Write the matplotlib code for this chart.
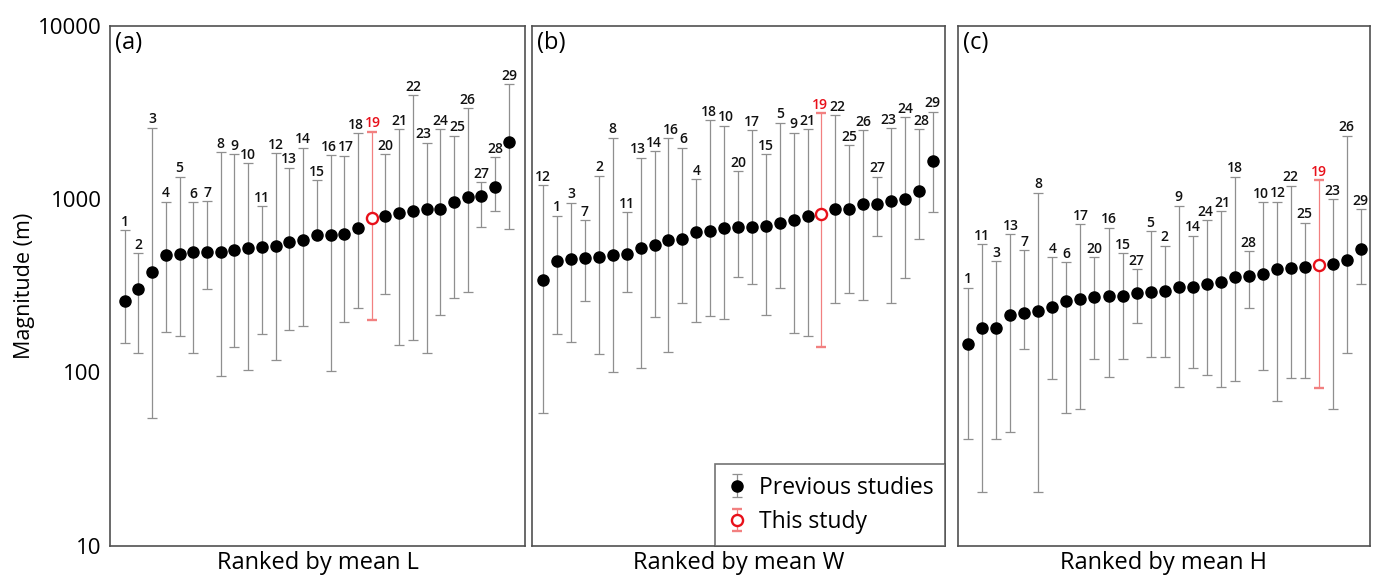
import matplotlib
matplotlib.use("Agg")
import matplotlib.pyplot as plt
import numpy as np

plt.rcParams['font.family'] = ['Open Sans', 'DejaVu Sans']

# ---------------- data ----------------
this_study_id = 19

labels_a = list(range(1, 30))
mean_a = [258, 301, 378, 476, 480, 493, 493, 493, 508, 524, 531, 536, 563, 581, 620,
          620, 629, 678, 775, 799, 828, 854, 877, 877, 958, 1032, 1046, 1179, 2128]
upper_a = [663, 487, 2584, 966, 1347, 958, 975, 1863, 1814, 1610, 912, 1838, 1518, 1981, 1289,
           1800, 1781, 2398, 2450, 1814, 2540, 3990, 2117, 2540, 2323, 3344, 1250, 1743, 4601]
lower_a = [148, 129, 54.7, 172, 163, 129, 304, 95.6, 140, 103, 166, 118, 175, 185, 620,
           102, 196, 234, 200, 283, 144, 154, 129, 214, 267, 290, 687, 854, 672]

labels_b = [12, 1, 3, 7, 2, 8, 11, 13, 14, 16, 6, 4, 18, 10, 20,
            17, 15, 5, 9, 21, 19, 22, 25, 26, 27, 23, 24, 28, 29]
mean_b = [341, 439, 451, 455, 461, 476, 482, 524, 543, 581, 586, 646, 654, 678, 687,
          693, 699, 725, 757, 799, 820, 873, 877, 933, 937, 975, 997, 1114, 1666]
upper_b = [1206, 802, 953, 757, 1365, 2262, 839, 1734, 1896, 2244, 1981, 1306, 2862, 2654, 1453,
           2506, 1814, 2761, 2418, 2540, 3129, 3059, 2053, 2506, 1347, 2563, 2967, 2529, 3196]
lower_b = [58.4, 166, 150, 259, 127, 101, 292, 106, 209, 131, 252, 194, 212, 202, 356,
           323, 214, 308, 168, 162, 140, 252, 288, 261, 612, 252, 352, 591, 839]

labels_c = [1, 11, 3, 13, 7, 8, 4, 6, 17, 20, 16, 15, 27, 5, 2,
            9, 14, 24, 21, 18, 28, 10, 12, 22, 25, 19, 23, 26, 29]
mean_c = [146, 180, 181, 214, 219, 226, 237, 258, 264, 273, 276, 277, 288, 292, 295,
          310, 312, 323, 334, 354, 360, 368, 393, 402, 407, 416, 424, 445, 517]
upper_c = [308, 548, 439, 629, 508, 1089, 461, 432, 715, 461, 684, 487, 393, 654, 538,
           916, 615, 757, 854, 1347, 502, 958, 966, 1195, 731, 1289, 1001, 2323, 873]
lower_c = [41.2, 20.4, 41.2, 45.0, 136, 20.4, 91.5, 58.4, 61.4, 119, 94.3, 120, 192, 123, 122,
           81.9, 106, 96.5, 81.9, 89.4, 236, 103, 68.5, 92.3, 93, 80.8, 61.4, 129, 322]

panel_tags = ["(a)", "(b)", "(c)"]
xlabels = ["Ranked by mean L", "Ranked by mean W", "Ranked by mean H"]
yticks = [10, 100, 1000, 10000]
ytick_labels = ["10", "100", "1000", "10000"]
legend_labels = ["Previous studies", "This study"]

# ---------------- figure ----------------
W, H = 1378, 581
fig = plt.figure(figsize=(W / 100, H / 100), dpi=100)

def fx(px):
    return px / W

bottom = (H - 545.5) / H
height = (545.5 - 26) / H
rects = [(110, 525), (532, 945), (958, 1370)]
xlims = [(-1.07, 29.17), (-0.81, 28.88), (-0.74, 28.66)]

panels = [(labels_a, mean_a, upper_a, lower_a),
          (labels_b, mean_b, upper_b, lower_b),
          (labels_c, mean_c, upper_c, lower_c)]

grey = "#8f8f8f"
red_bar = "#f28080"
spine_col = "#505050"

all_label_groups = []

for i, ((l, r), data) in enumerate(zip(rects, panels)):
    ax = fig.add_axes([fx(l), bottom, fx(r - l), height])
    labs, mean, up, lo = [np.asarray(d, dtype=float) for d in data]
    x = np.arange(len(labs))
    is_this = labs == this_study_id
    prev = ~is_this

    yerr_prev = [mean[prev] - lo[prev], up[prev] - mean[prev]]
    c1 = ax.errorbar(x[prev], mean[prev], yerr=yerr_prev, fmt='o', color='black',
                     ms=8, ecolor=grey, elinewidth=0.9, capsize=3.4, capthick=0.9,
                     zorder=3)
    yerr_this = [mean[is_this] - lo[is_this], up[is_this] - mean[is_this]]
    c2 = ax.errorbar(x[is_this], mean[is_this], yerr=yerr_this, fmt='o',
                     mfc='white', mec='#e8101a', mew=1.7, ms=8,
                     ecolor=red_bar, elinewidth=0.9, capsize=3.4, capthick=0.9,
                     zorder=3)

    group = []
    for xi, lab, u in zip(x, labs, up):
        col = '#e8101a' if lab == this_study_id else '#111111'
        t = ax.annotate(str(int(lab)), (xi, u), xytext=(0, 1.0), textcoords='offset points',
                        ha='center', va='bottom', fontsize=10, fontweight='semibold',
                        color=col)
        group.append(t)
    all_label_groups.append(group)

    ax.set_yscale('log')
    ax.set_ylim(10, 10000)
    ax.set_xlim(*xlims[i])
    ax.set_xticks([])
    ax.minorticks_off()
    ax.tick_params(axis='y', which='both', length=0, pad=6, labelsize=16)
    if i == 0:
        ax.set_yticks(yticks)
        ax.set_yticklabels(ytick_labels)
    else:
        ax.set_yticks([])
    for s in ax.spines.values():
        s.set_color(spine_col)
        s.set_linewidth(1.2)
    ax.set_xlabel(xlabels[i], fontsize=17, labelpad=4)
    ax.text(0.012, 0.99, panel_tags[i], transform=ax.transAxes, ha='left', va='top',
            fontsize=17)

    if i == 1:
        leg = ax.legend([c1, c2], legend_labels, loc='lower right', borderaxespad=0,
                        fontsize=16.5, frameon=True, fancybox=False, handlelength=0.9,
                        handletextpad=0.5, labelspacing=0.45, borderpad=0.5,
                        edgecolor=spine_col)
        leg.get_frame().set_linewidth(1.2)

fig.text(25 / W, 1 - (26 + 545.5) / 2 / H, "Magnitude (m)", rotation=90,
         ha='center', va='center', fontsize=15.5)

# nudge neighbouring point labels apart where they would collide
fig.canvas.draw()
renderer = fig.canvas.get_renderer()
px2pt = 72.0 / fig.dpi
for group in all_label_groups:
    for _ in range(3):
        for a, b in zip(group[:-1], group[1:]):
            ba = a.get_window_extent(renderer)
            bb = b.get_window_extent(renderer)
            ov_x = ba.x1 - bb.x0
            ov_y = min(ba.y1, bb.y1) - max(ba.y0, bb.y0)
            if ov_x > -0.5 and ov_y > 0:
                shift = (ov_x + 1.0) / 2.0 * px2pt
                xa, ya = a.xyann
                xb, yb = b.xyann
                a.xyann = (xa - shift, ya)
                b.xyann = (xb + shift, yb)
        fig.canvas.draw()

fig.savefig("out.png", dpi=100)
